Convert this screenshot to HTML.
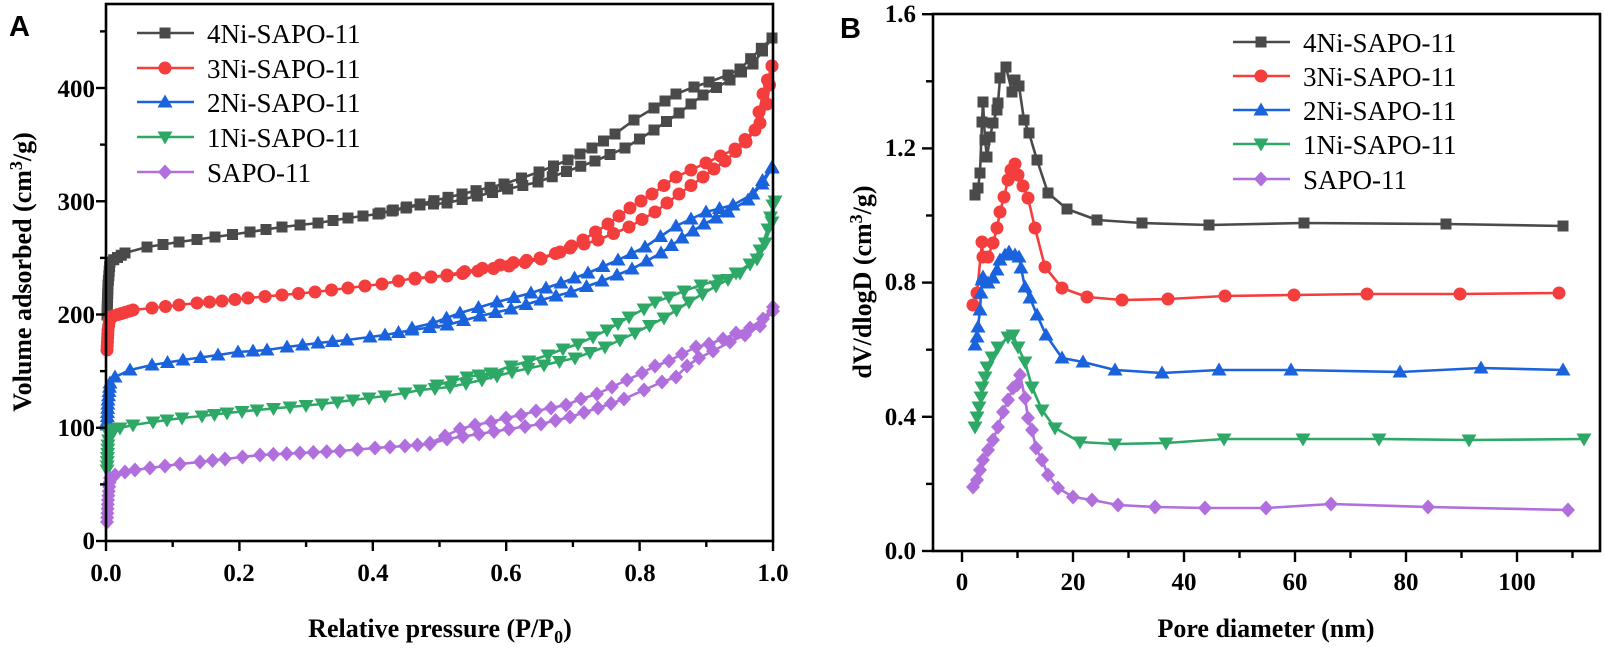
<!DOCTYPE html>
<html><head><meta charset="utf-8"><style>
html,body{margin:0;padding:0;background:#fff;}
svg{display:block;}
text{font-family:"Liberation Serif",serif;}
.t{font-size:25px;font-weight:bold;}
.lg{font-size:27px;}
</style></head><body>
<svg id="s" width="1605" height="649" viewBox="0 0 1605 649" xmlns="http://www.w3.org/2000/svg">
<text x="9" y="36" style="font-family:'Liberation Sans',sans-serif;font-weight:bold;font-size:29px">A</text>
<text x="840" y="38" style="font-family:'Liberation Sans',sans-serif;font-weight:bold;font-size:29px">B</text>
<g id="plots"></g>
<g id="axes" stroke="#000" stroke-width="2.6" fill="none">
<rect x="106" y="4" width="667" height="537"/>
<rect x="933" y="14" width="667" height="537"/>
</g>
<g id="ticks" stroke="#000" stroke-width="2.4"></g>
<g class="t" text-anchor="end">
<text x="95" y="549">0</text><text x="95" y="436">100</text><text x="95" y="323">200</text><text x="95" y="210">300</text><text x="95" y="97">400</text>
<text x="916" y="559">0.0</text><text x="916" y="425">0.4</text><text x="916" y="290">0.8</text><text x="916" y="156">1.2</text><text x="916" y="22">1.6</text>
</g>
<g class="t" text-anchor="middle">
<text x="106" y="581">0.0</text><text x="239" y="581">0.2</text><text x="373" y="581">0.4</text><text x="506" y="581">0.6</text><text x="640" y="581">0.8</text><text x="773" y="581">1.0</text>
<text x="962" y="590">0</text><text x="1073" y="590">20</text><text x="1184" y="590">40</text><text x="1295" y="590">60</text><text x="1406" y="590">80</text><text x="1517" y="590">100</text>
</g>
<text x="440" y="637" text-anchor="middle" style="font-size:26px;font-weight:bold">Relative pressure (P/P<tspan font-size="18" dy="6">0</tspan><tspan dy="-6">)</tspan></text>
<text x="1266" y="637" text-anchor="middle" style="font-size:26px;font-weight:bold">Pore diameter (nm)</text>
<text transform="translate(31,272) rotate(-90)" text-anchor="middle" style="font-size:26px;font-weight:bold">Volume adsorbed (cm<tspan font-size="18" dy="-9">3</tspan><tspan dy="9">/g)</tspan></text>
<text transform="translate(871,282) rotate(-90)" text-anchor="middle" style="font-size:26px;font-weight:bold">dV/dlogD (cm<tspan font-size="18" dy="-9">3</tspan><tspan dy="9">/g)</tspan></text>
<g id="legend"></g>
</svg>
<script>
var NS="http://www.w3.org/2000/svg";
function el(p,n,a){var e=document.createElementNS(NS,n);for(var k in a)e.setAttribute(k,a[k]);p.appendChild(e);return e;}
var C=["#4a4a4a","#f43d3d","#1a63dc","#2ea866","#b06fdc"];
var plots=document.getElementById("plots");
function marker(g,t,x,y,c,s){s=s||1;
 if(t==0)el(g,"rect",{x:x-5.5*s,y:y-5.5*s,width:11*s,height:11*s,fill:c});
 else if(t==1)el(g,"circle",{cx:x,cy:y,r:6.5*s,fill:c});
 else if(t==2)el(g,"polygon",{points:(x)+","+(y-7.5*s)+" "+(x+7.5*s)+","+(y+5.5*s)+" "+(x-7.5*s)+","+(y+5.5*s),fill:c});
 else if(t==3)el(g,"polygon",{points:(x)+","+(y+7.5*s)+" "+(x+7.5*s)+","+(y-5.5*s)+" "+(x-7.5*s)+","+(y-5.5*s),fill:c});
 else el(g,"polygon",{points:(x)+","+(y-7.5*s)+" "+(x+7*s)+","+(y)+" "+(x)+","+(y+7.5*s)+" "+(x-7*s)+","+(y),fill:c});
}
function series(pts,t,c,dense,fill){
 var g=el(plots,"g",{});
 el(g,"polyline",{points:pts.map(function(p){return p.join(",")}).join(" "),fill:"none",stroke:c,"stroke-width":2.6,"stroke-linejoin":"round"});
 for(var i=0;i<pts.length;i++){marker(g,t,pts[i][0],pts[i][1],c);
  if(i+1<pts.length){var a=pts[i],b=pts[i+1];var d=Math.hypot(b[0]-a[0],b[1]-a[1]);
   if(dense&&i<dense){var n=Math.floor(d/4);for(var j=1;j<n;j++)marker(g,t,a[0]+(b[0]-a[0])*j/n,a[1]+(b[1]-a[1])*j/n,c);}
   else if(fill&&d>22){var n=Math.round(d/16);for(var j=1;j<n;j++)marker(g,t,a[0]+(b[0]-a[0])*j/n,a[1]+(b[1]-a[1])*j/n,c);}
  }
 }
}
var A=[
 {t:0,ad:[[107,315],[108,285],[110,262],[125,253],[147,247],[179,242],[215,237],[250,232],[282,227],[318,223],[348,218],[378,214],[420,205],[447,203],[538,182],[595,161],[625,148],[654,130],[679,113],[703,95],[730,80],[753,64],[772,38]],
  de:[[772,38],[740,69],[728,75],[709,82],[694,87],[676,94],[654,108],[634,120],[615,134],[592,148],[568,160],[539,172],[504,184],[462,194],[420,204],[380,213]]},
 {t:1,ad:[[107,350],[108,330],[110,317],[133,310],[152,308],[179,305],[197,303],[222,301],[248,298],[282,295],[315,292],[348,288],[382,284],[415,278],[447,276],[509,266],[541,259],[570,248],[598,240],[629,227],[655,212],[679,194],[703,177],[725,161],[746,142],[760,123],[767,104],[772,66]],
  de:[[772,66],[763,94],[755,130],[735,149],[706,163],[676,177],[652,194],[630,208],[608,224],[583,240],[560,252],[540,258],[500,265],[447,275],[415,279]]},
 {t:2,ad:[[107,425],[108,400],[110,383],[115,377],[130,370],[152,365],[183,360],[218,355],[238,352],[253,351],[267,350],[287,347],[318,343],[347,340],[370,337],[385,335],[412,330],[447,325],[480,316],[511,309],[541,300],[571,292],[602,281],[632,269],[661,253],[682,238],[704,224],[728,212],[748,200],[762,184],[772,168]],
  de:[[772,167],[753,194],[733,205],[706,212],[676,226],[645,247],[618,260],[588,273],[561,283],[531,293],[497,302],[460,313],[433,323],[412,328]]},
 {t:3,ad:[[107,470],[108,445],[110,430],[120,428],[133,425],[153,422],[167,420],[182,418],[202,416],[227,413],[257,410],[290,407],[322,404],[353,400],[385,396],[405,393],[420,390],[450,387],[482,380],[512,372],[544,365],[575,358],[605,347],[635,333],[664,318],[689,302],[716,286],[740,273],[757,259],[765,243],[772,222],[775,201]],
  de:[[773,205],[768,229],[760,250],[750,264],[736,273],[719,280],[701,285],[684,291],[669,297],[655,302],[644,309],[629,317],[607,330],[593,337],[578,344],[563,349],[548,355],[529,361],[511,366],[491,373],[467,377],[437,385]]},
 {t:4,ad:[[107,522],[108,500],[110,478],[115,475],[125,472],[135,470],[150,468],[165,466],[180,464],[200,462],[225,459],[260,455],[300,453],[340,451],[375,448],[405,446],[430,444],[447,439],[479,434],[509,429],[541,424],[570,417],[598,408],[624,399],[644,390],[662,382],[676,377],[687,366],[699,358],[713,351],[730,342],[745,335],[760,326],[773,311]],
  de:[[773,307],[763,319],[750,328],[736,333],[723,339],[709,344],[696,347],[682,354],[669,361],[655,366],[642,373],[627,380],[612,387],[597,394],[581,399],[566,405],[551,408],[536,411],[521,415],[506,418],[491,422],[475,425],[460,429],[430,443]]}
];
A.forEach(function(s,i){series(s.de,s.t,C[i],0,true);series(s.ad,s.t,C[i],3,true);});
var B=[
 [[975,195],[978,188],[980,173],[982,122],[983,102],[985,140],[987,157],[990,137],[993,123],[997,110],[998,103],[1000,78],[1006,67],[1012,92],[1015,80],[1019,86],[1024,120],[1029,133],[1037,160],[1048,193],[1067,209],[1097,220],[1142,223],[1209,225],[1304,223],[1446,224],[1563,226]],
 [[973,305],[977,293],[982,242],[983,257],[988,257],[993,243],[997,228],[1000,212],[1004,197],[1008,180],[1011,170],[1015,164],[1018,175],[1023,186],[1028,198],[1035,228],[1045,267],[1062,288],[1087,297],[1122,300],[1168,299],[1225,296],[1294,295],[1367,294],[1460,294],[1559,293]],
 [[975,345],[977,337],[978,327],[980,310],[981,293],[982,280],[983,277],[988,283],[993,278],[997,270],[1000,260],[1005,255],[1009,252],[1015,255],[1019,257],[1021,268],[1025,287],[1030,298],[1037,315],[1046,335],[1062,358],[1083,362],[1115,370],[1162,373],[1219,370],[1291,370],[1400,372],[1481,368],[1563,370]],
 [[975,427],[977,417],[979,407],[981,397],[982,387],[985,377],[987,367],[992,357],[998,347],[1008,337],[1013,335],[1018,347],[1025,362],[1032,387],[1042,410],[1055,428],[1080,442],[1115,444],[1166,443],[1224,439],[1303,439],[1379,439],[1469,440],[1584,439]],
 [[973,487],[977,480],[980,470],[983,460],[988,450],[993,440],[998,427],[1003,412],[1008,400],[1013,388],[1017,385],[1020,375],[1025,398],[1028,418],[1032,430],[1036,448],[1042,460],[1048,475],[1058,488],[1073,497],[1092,500],[1118,505],[1155,507],[1205,508],[1266,508],[1331,504],[1428,507],[1568,510]]
];
B.forEach(function(p,i){series(p,i,C[i],0,false);});
var tk=document.getElementById("ticks");
function ln(x1,y1,x2,y2){el(tk,"line",{x1:x1,y1:y1,x2:x2,y2:y2});}
for(var v=0;v<=450;v+=50){var y=541-v*1.1325;ln(106,y,v%100==0?96:100,y);}
for(var v=0;v<=10;v++){var x=106+v*66.7;ln(x,541,x,v%2==0?551:547);}
for(var v=0;v<=8;v++){var y=551-v*67.1;ln(933,y,v%2==0?922:926,y);}
for(var v=0;v<=11;v++){var x=962+v*55.5;ln(x,551,x,v%2==0?562:558);}
var lg=document.getElementById("legend");
var names=["4Ni-SAPO-11","3Ni-SAPO-11","2Ni-SAPO-11","1Ni-SAPO-11","SAPO-11"];
var ya=[33,68,102,137,172],yb=[42,76,110,144,179];
for(var i=0;i<5;i++){
 el(lg,"line",{x1:137,y1:ya[i],x2:194,y2:ya[i],stroke:C[i],"stroke-width":2.6});marker(lg,i,165,ya[i],C[i]);
 var t=el(lg,"text",{x:207,y:ya[i]+10,"class":"lg"});t.textContent=names[i];
 el(lg,"line",{x1:1233,y1:yb[i],x2:1290,y2:yb[i],stroke:C[i],"stroke-width":2.6});marker(lg,i,1261,yb[i],C[i]);
 var t2=el(lg,"text",{x:1303,y:yb[i]+10,"class":"lg"});t2.textContent=names[i];
}
</script>
</body></html>
